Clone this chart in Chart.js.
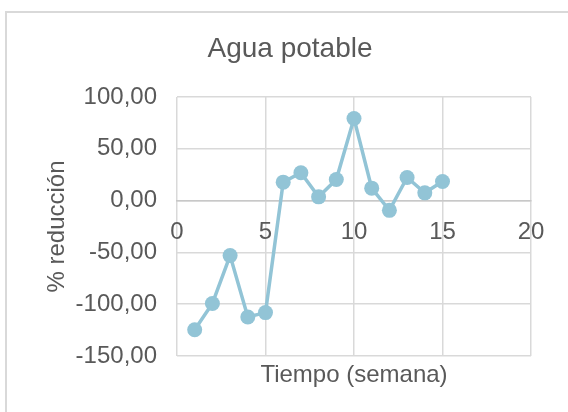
<!DOCTYPE html>
<html>
<head>
<meta charset="utf-8">
<script src="https://cdn.jsdelivr.net/npm/chart.js@4/dist/chart.umd.min.js"></script>
<style>
  html, body { margin: 0; padding: 0; background: #ffffff; overflow: hidden; }
  #frame { position: absolute; left: 5px; top: 11px; width: 620px; height: 460px; border: 2px solid #D9D9D9; }
  #c { position: absolute; left: 0; top: 0; }
</style>
</head>
<body>
<div id="frame"></div>
<canvas id="c" width="568" height="412"></canvas>
<script>
// ---- data ----
const weeks = [1, 2, 3, 4, 5, 6, 7, 8, 9, 10, 11, 12, 13, 14, 15];
const reduction = [-124.6, -99.3, -53.1, -112.3, -108.1, 17.8, 26.9, 3.6, 20.4, 79.3, 12.0, -9.4, 22.3, 7.5, 18.4];
const xTicks = [0, 5, 10, 15, 20];
const yTicks = [-150, -100, -50, 0, 50, 100];
const chartTitle = 'Agua potable';
const xTitle = 'Tiempo (semana)';
const yTitle = '% reducción';
const seriesName = 'Agua potable';

const TXT = '#595959';
const GRID = '#D9D9D9';
const FONT = '"Liberation Sans", Arial, Helvetica, sans-serif';
const LINE = '#92C4D6';

const points = weeks.map((w, i) => ({ x: w, y: reduction[i] }));

new Chart(document.getElementById('c'), {
  type: 'line',
  data: {
    datasets: [{
      label: seriesName,
      data: points,
      borderColor: LINE,
      backgroundColor: LINE,
      borderWidth: 3.5,
      pointRadius: 7.5,
      pointHoverRadius: 7.5,
      pointBackgroundColor: LINE,
      pointBorderColor: LINE,
      pointBorderWidth: 0,
      tension: 0,
      fill: false,
      clip: false
    }]
  },
  options: {
    responsive: false,
    animation: false,
    devicePixelRatio: 1,
    layout: { padding: { left: 12, right: 0, top: 0, bottom: 0 } },
    plugins: {
      legend: { display: false },
      tooltip: { enabled: false },
      title: {
        display: true,
        text: chartTitle,
        color: TXT,
        font: { family: FONT, size: 28, weight: 'normal', lineHeight: 1.2 },
        padding: { top: 32, bottom: 31.4 }
      }
    },
    scales: {
      x: {
        type: 'linear',
        position: { y: 0 },
        min: xTicks[0],
        max: xTicks[xTicks.length - 1],
        afterBuildTicks: (axis) => { axis.ticks = xTicks.map(v => ({ value: v })); },
        ticks: {
          color: TXT,
          padding: 17,
          maxRotation: 0,
          font: { family: FONT, size: 24 },
          callback: (v) => String(v)
        },
        grid: { color: GRID, lineWidth: 1.5, drawTicks: false },
        border: { display: true, color: '#C8C8C8', width: 1.5 }
      },
      x2: {
        type: 'linear',
        position: 'bottom',
        min: xTicks[0],
        max: xTicks[xTicks.length - 1],
        ticks: { display: false },
        grid: { display: false, drawTicks: false },
        border: { display: false },
        title: {
          display: true,
          text: xTitle,
          color: TXT,
          font: { family: FONT, size: 24, lineHeight: 1.2 },
          padding: { top: 0, bottom: 22 }
        },
        afterFit: (axis) => { axis.height = 56; }
      },
      y: {
        type: 'linear',
        position: 'left',
        min: yTicks[0],
        max: yTicks[yTicks.length - 1],
        afterBuildTicks: (axis) => { axis.ticks = yTicks.map(v => ({ value: v })); },
        ticks: {
          color: TXT,
          padding: 20,
          font: { family: FONT, size: 24 },
          callback: (v) => v.toFixed(2).replace('.', ',')
        },
        grid: { color: GRID, lineWidth: 1.5, drawTicks: false },
        border: { display: false },
        title: {
          display: true,
          text: yTitle,
          color: TXT,
          font: { family: FONT, size: 24, lineHeight: 1.2 },
          padding: { top: 31, bottom: 0 }
        },
        afterFit: (axis) => { axis.width = 165; }
      },
      yR: {
        type: 'linear',
        position: 'right',
        display: true,
        ticks: { display: false },
        grid: { display: false, drawTicks: false },
        border: { display: false },
        afterFit: (axis) => { axis.width = 37; }
      }
    }
  }
});
</script>
</body>
</html>
